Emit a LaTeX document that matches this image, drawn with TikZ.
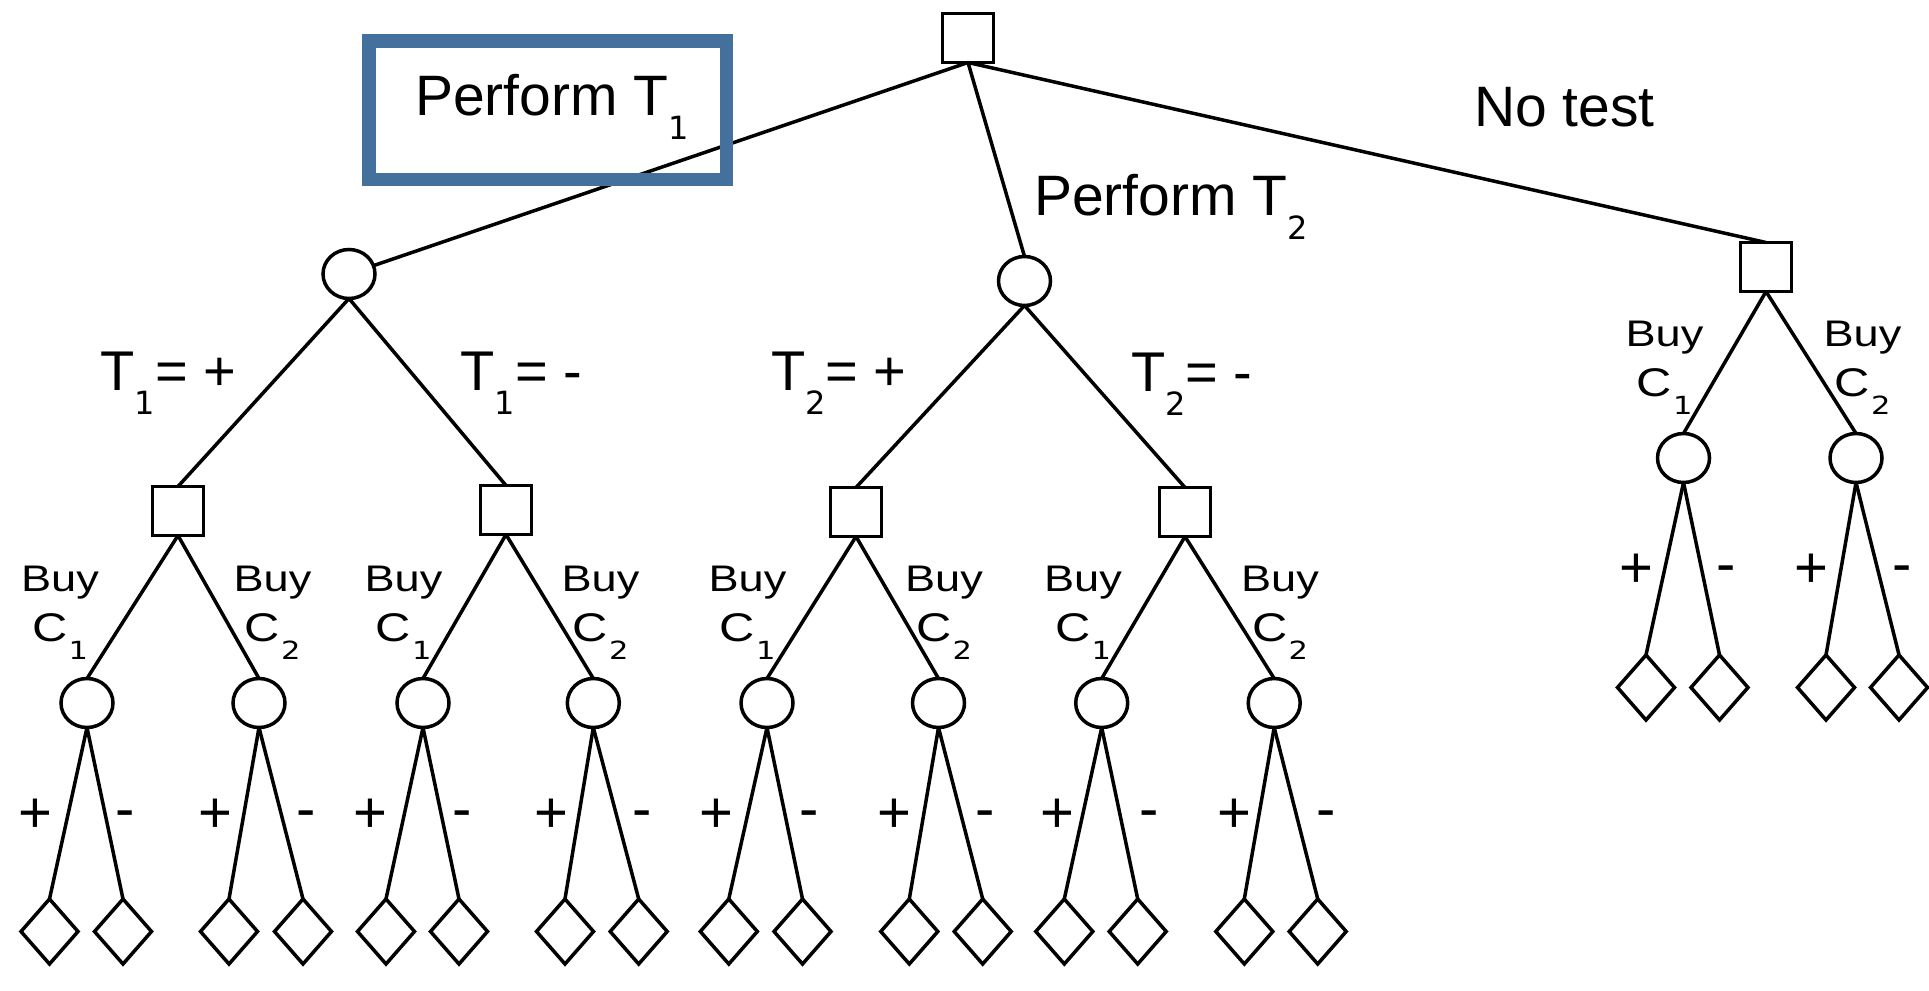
\documentclass[tikz,border=0pt]{standalone}
\usepackage{fontspec}
\setmainfont{Liberation Sans}
\newfontfamily\subfont{DejaVu Sans}
\usetikzlibrary{shapes.geometric}
\definecolor{hlblue}{RGB}{67,112,157}
\newcommand{\bsub}[1]{\raisebox{-24pt}{\fontsize{32}{32}\subfont #1}}
\newcommand{\ssub}[1]{\hspace{1pt}\raisebox{-18pt}{\fontsize{25}{25}\subfont #1}}
\newcommand{\stretchtxt}[1]{\scalebox{1.22}[1]{#1}}
\begin{document}
\begin{tikzpicture}[x=1pt,y=-1pt,
  every node/.style={inner sep=0pt, outer sep=0pt},
  dec/.style={draw, line width=3.5pt, rectangle, minimum width=51pt, minimum height=49pt},
  chance/.style={draw, line width=3.5pt, ellipse, minimum width=52pt, minimum height=49pt},
  leaf/.style={draw, line width=3.5pt, diamond, minimum width=57pt, minimum height=65pt},
  edge/.style={line width=3.5pt},
  biglbl/.style={anchor=base west, font=\fontsize{57}{60}\selectfont},
  tlbl/.style={anchor=base west, font=\fontsize{56}{60}\selectfont},
  pm/.style={anchor=base, font=\fontsize{58}{60}\selectfont},
  buy/.style={anchor=base, font=\fontsize{37}{40}\selectfont},
  cname/.style={anchor=base, font=\fontsize{40}{42}\selectfont},
  hlbox/.style={draw=hlblue, line width=13.5pt, minimum width=357.5pt, minimum height=138pt}
]
\useasboundingbox (0,0) rectangle (1929,990);
\fill[white] (0,0) rectangle (1929,990);

% decision and chance nodes
\node[dec] (r) at (968,38) {};
\node[chance] (p1) at (349,274) {};
\node[chance] (p2) at (1024.5,281) {};
\node[dec] (nt) at (1766,267) {};
\node[dec] (a) at (178,511) {};
\node[dec] (b) at (506,510) {};
\node[dec] (c) at (856,512) {};
\node[dec] (d) at (1185,512) {};

\draw[edge] (r.south) -- (p1);
\draw[edge] (r.south) -- (p2.north);
\draw[edge] (r.south) -- (nt.north);
\draw[edge] (p1.south) -- (a.north);
\draw[edge] (p1.south) -- (b.north);
\draw[edge] (p2.south) -- (c.north);
\draw[edge] (p2.south) -- (d.north);

% level-3 chance nodes with their leaves
\foreach \n/\p/\x/\y/\xl/\xr/\yl in {
  a1/a/87/703/49.5/123/931.5, a2/a/259/703/229/303/931.5,
  b1/b/423/703/386/459/931.5, b2/b/593.3/703/565/638.7/931.5,
  c1/c/767/703/728.8/802.5/931.5, c2/c/938.5/703/909.3/982.7/931.5,
  d1/d/1101.7/703/1064.3/1137.7/931.5, d2/d/1274.2/703/1244.3/1317.7/931.5,
  e1/nt/1683.5/458/1646/1719.5/687.5, e2/nt/1856/458/1826/1899/687.5}{
  \node[chance] (\n) at (\x,\y) {};
  \node[leaf] (\n l) at (\xl,\yl) {};
  \node[leaf] (\n r) at (\xr,\yl) {};
  \draw[edge] (\p.south) -- (\n.north);
  \draw[edge] (\n.south) -- (\n l.north);
  \draw[edge] (\n.south) -- (\n r.north);
}

% highlight box
\node[hlbox] (hl) at (547.75,110.25) {};

% labels
\node[biglbl] (lp1) at (415,115) {Perform T\bsub{1}};
\node[biglbl] (lp2) at (1034,215) {Perform T\bsub{2}};
\node[biglbl] (lnt) at (1474,126.7) {No test};
\node[tlbl] (t1p) at (100.5,390.7) {T\bsub{1}= +};
\node[tlbl] (t1m) at (460.5,390.7) {T\bsub{1}= -};
\node[tlbl] (t2p) at (771,390.7) {T\bsub{2}= +};
\node[tlbl] (t2m) at (1131,391) {T\bsub{2}= -};

\foreach \x/\k/\yb [count=\i] in {60/1/591.7, 272.5/2/591.7, 403.5/1/591.7, 600.5/2/591.7,
  747.5/1/591.7, 944/2/591.7, 1083/1/591.7, 1280/2/591.7, 1664.5/1/346.7, 1862.5/2/346.7}{
  \node[buy] (buy\i) at (\x,\yb) {\stretchtxt{Buy}};
  \node[cname] (cc\i) at (\x,\yb+50) {\stretchtxt{C\ssub{\k}}};
}

\foreach \x/\yb [count=\i] in {35/832, 215/832, 370/832, 551/832, 716.7/832, 894/832,
  1057.7/832, 1234.7/832, 1636/587, 1811.7/587}{
  \node[pm] (plus\i) at (\x,\yb) {+};
}
\foreach \x/\yb [count=\i] in {125.5/828, 305.7/828, 462.5/828, 642/828, 809/828, 984.7/828,
  1149.5/828, 1326/828, 1726.5/583.5, 1902.5/583.5}{
  \node[pm] (minus\i) at (\x,\yb) {-};
}
\end{tikzpicture}
\end{document}
